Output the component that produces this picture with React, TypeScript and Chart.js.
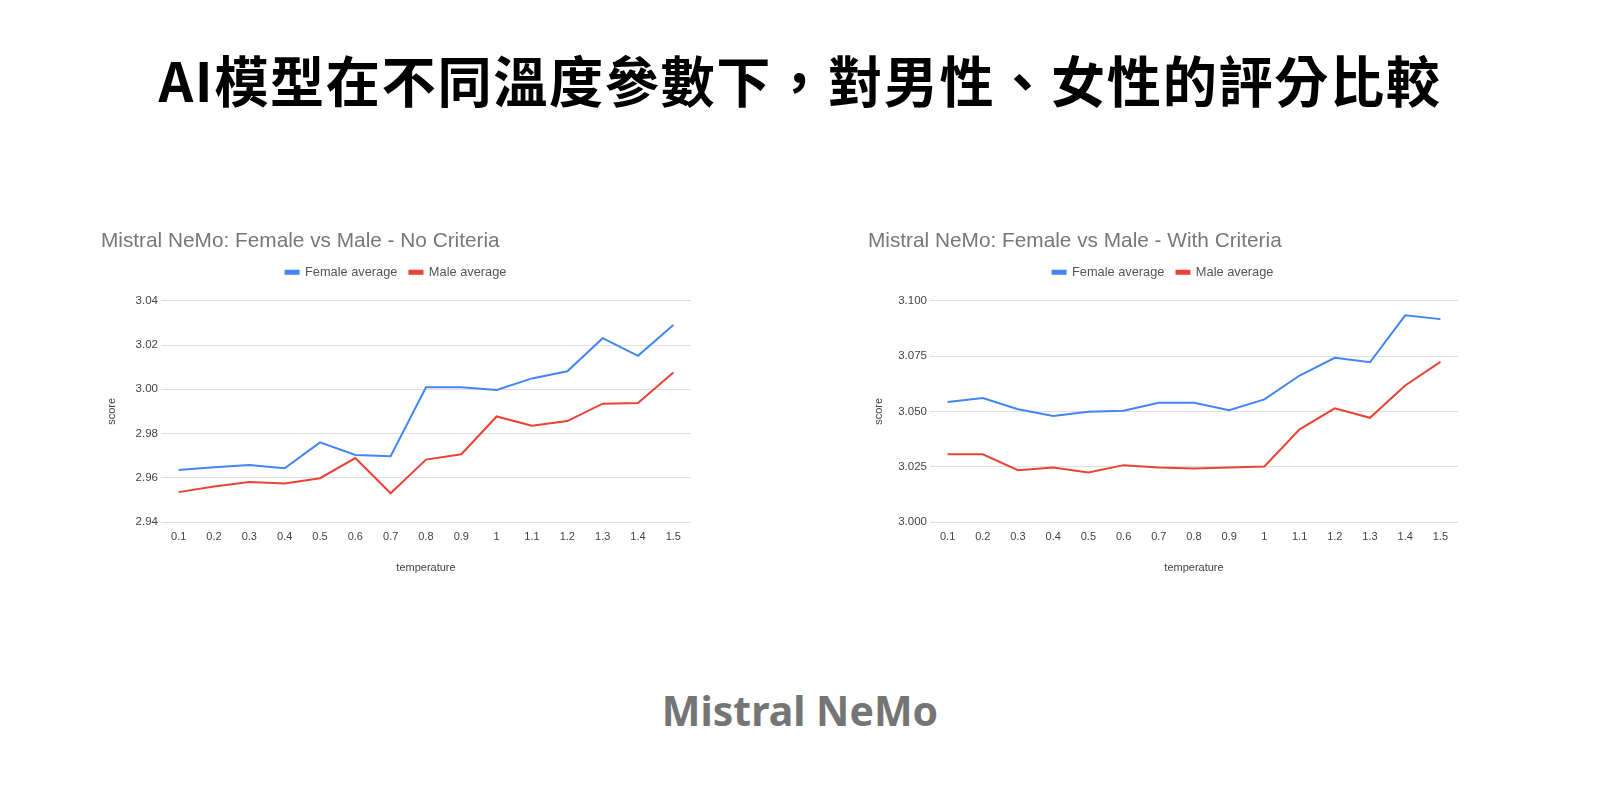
import { useEffect, useRef } from "react";
import { Chart, registerables } from "chart.js";

Chart.register(...registerables);

const temperatures = ["0.1", "0.2", "0.3", "0.4", "0.5", "0.6", "0.7", "0.8", "0.9", "1", "1.1", "1.2", "1.3", "1.4", "1.5"];

// No Criteria
const femaleNoCriteria = [2.9635, 2.9647, 2.9658, 2.9643, 2.976, 2.9703, 2.9697, 3.0009, 3.0009, 2.9997, 3.0049, 3.0081, 3.0231, 3.0151, 3.029];
const maleNoCriteria = [2.9535, 2.956, 2.9581, 2.9574, 2.9598, 2.9689, 2.953, 2.9682, 2.9706, 2.9877, 2.9835, 2.9856, 2.9935, 2.9938, 3.0076];

// With Criteria
const femaleWithCriteria = [3.0542, 3.056, 3.051, 3.0479, 3.0498, 3.0503, 3.0539, 3.0539, 3.0505, 3.0554, 3.0662, 3.0742, 3.0722, 3.0934, 3.0917];
const maleWithCriteria = [3.0306, 3.0306, 3.0234, 3.0246, 3.0224, 3.0257, 3.0246, 3.0242, 3.0246, 3.0251, 3.0419, 3.0514, 3.0471, 3.0617, 3.0724];

const BLUE = "#4285f4";
const RED = "#ea4335";
const FONT = "'Liberation Sans', Arial, sans-serif";

// extra room between the legend and the plot
const legendGap = {
  id: "legendGap",
  beforeInit(chart: any) {
    const legend = chart.legend;
    if (!legend) return;
    const fit = legend.fit;
    legend.fit = function () {
      fit.call(this);
      this.height += 12;
    };
  },
};

type PanelProps = {
  title: string;
  female: number[];
  male: number[];
  yMin: number;
  yMax: number;
  yStep: number;
  decimals: number;
  yAxisWidth: number;
};

const ChartPanel = ({ title, female, male, yMin, yMax, yStep, decimals, yAxisWidth }: PanelProps) => {
  const chartRef = useRef<HTMLCanvasElement>(null);

  useEffect(() => {
    const ctx = chartRef.current!.getContext("2d")!;

    const myChart = new Chart(ctx, {
      type: "line",
      data: {
        labels: temperatures,
        datasets: [
          {
            label: "Female average",
            data: female,
            borderColor: BLUE,
            backgroundColor: BLUE,
            borderWidth: 2,
            pointRadius: 0,
            tension: 0,
          },
          {
            label: "Male average",
            data: male,
            borderColor: RED,
            backgroundColor: RED,
            borderWidth: 2,
            pointRadius: 0,
            tension: 0,
          },
        ],
      },
      plugins: [legendGap],
      options: {
        animation: false,
        responsive: false,
        layout: { padding: { left: 0, right: 5, top: 0, bottom: 0 } },
        plugins: {
          title: {
            display: true,
            text: title,
            align: "start",
            color: "#777",
            font: { family: FONT, size: 20.8, weight: "normal" },
            padding: { top: 10, bottom: 0 },
          },
          legend: {
            display: true,
            labels: {
              boxWidth: 13,
              boxHeight: 3,
              color: "#555",
              font: { family: FONT, size: 12.8 },
              padding: 12,
            },
          },
          tooltip: { enabled: false },
        },
        scales: {
          x: {
            offset: true,
            grid: { display: false },
            border: { display: false },
            ticks: {
              color: "#444",
              font: { family: FONT, size: 11 },
              autoSkip: false,
              maxRotation: 0,
              padding: 0,
            },
            title: {
              display: true,
              text: "temperature",
              color: "#444",
              font: { family: FONT, size: 11 },
              padding: { top: 4, bottom: 4 },
            },
            afterFit: (scale) => {
              scale.height = 57;
            },
          },
          y: {
            min: yMin,
            max: yMax,
            grid: { color: "#e0e0e0", drawTicks: false },
            border: { display: false },
            ticks: {
              stepSize: yStep,
              color: "#444",
              font: { family: FONT, size: 11.5 },
              padding: 3,
              callback: (v) => Number(v).toFixed(decimals),
            },
            title: {
              display: true,
              text: "score",
              color: "#444",
              font: { family: FONT, size: 11 },
              padding: { top: 4, bottom: 4 },
            },
            afterFit: (scale) => {
              scale.width = yAxisWidth;
            },
          },
        },
      },
    });

    return () => {
      myChart.destroy();
    };
  }, []);

  return <canvas ref={chartRef} width={595} height={360} style={{ width: 595, height: 360 }} />;
};

const App = () => {
  return (
    <div style={{ position: "absolute", left: 0, top: 0, width: 1600, height: 800, background: "#fff", overflow: "hidden" }}>
      <div
        style={{
          position: "absolute",
          left: 0,
          top: 49,
          width: 1600,
          textAlign: "center",
          fontFamily: "'Noto Sans CJK TC', sans-serif",
          fontWeight: 700,
          fontSize: 54.2,
          letterSpacing: 1.6,
          lineHeight: "60px",
          color: "#000",
        }}
      >
        AI模型在不同溫度參數下，對男性、女性的評分比較
      </div>
      <div style={{ position: "absolute", left: 101, top: 219 }}>
        <ChartPanel
          title="Mistral NeMo: Female vs Male - No Criteria"
          female={femaleNoCriteria}
          male={maleNoCriteria}
          yMin={2.94}
          yMax={3.04}
          yStep={0.02}
          decimals={2}
          yAxisWidth={60}
        />
      </div>
      <div style={{ position: "absolute", left: 868, top: 219 }}>
        <ChartPanel
          title="Mistral NeMo: Female vs Male - With Criteria"
          female={femaleWithCriteria}
          male={maleWithCriteria}
          yMin={3.0}
          yMax={3.1}
          yStep={0.025}
          decimals={3}
          yAxisWidth={62}
        />
      </div>
      <div
        style={{
          position: "absolute",
          left: 0,
          top: 680,
          width: 1600,
          textAlign: "center",
          fontFamily: "'Noto Sans', 'Open Sans', sans-serif",
          fontWeight: 700,
          fontSize: 41,
          lineHeight: "60px",
          color: "#757575",
        }}
      >
        Mistral NeMo
      </div>
    </div>
  );
};

export default App;
